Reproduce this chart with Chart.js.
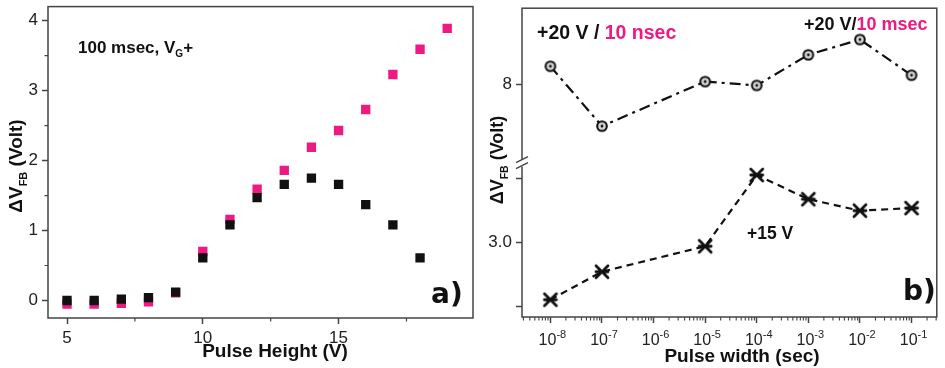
<!DOCTYPE html>
<html>
<head>
<meta charset="utf-8">
<script src="https://cdn.jsdelivr.net/npm/chart.js@4.4.1/dist/chart.umd.min.js"></script>
<style>
  html, body { margin: 0; padding: 0; background: #fff; }
  #wrap { position: relative; width: 945px; height: 368px; overflow: hidden; background: #fff; }
  canvas { position: absolute; top: 0; }
  #cA { left: 0; }
  #cB { left: 480px; }
</style>
</head>
<body>
<div id="wrap">
  <canvas id="cA" width="480" height="368"></canvas>
  <canvas id="cB" width="465" height="368"></canvas>
</div>
<script>
// ---- panel a): flat-band shift vs. pulse height (100 msec pulses) ----
const pulseHeights = [5, 6, 7, 8, 9, 10, 11, 12, 13, 14, 15, 16, 17, 18, 19];
const shiftBlack   = [0.00, 0.00, 0.02, 0.04, 0.12, 0.61, 1.08, 1.47, 1.66, 1.75, 1.66, 1.37, 1.08, 0.61];
const shiftPink    = [-0.05, -0.05, -0.04, -0.02, 0.11, 0.70, 1.16, 1.59, 1.86, 2.19, 2.43, 2.73, 3.23, 3.59, 3.89];
const aXTicks      = [5, 10, 15];
const aXMinor      = [7.5, 12.5, 17.5];
const aYTicks      = [0, 1, 2, 3, 4];
const aYMinor      = [0.5, 1.5, 2.5, 3.5];

// ---- panel b): flat-band shift vs. pulse width ----
const pulseWidths  = [1e-8, 1e-7, 1e-5, 1e-4, 1e-3, 1e-2, 1e-1];
const shift20V     = [8.14, 7.67, 8.02, 7.99, 8.23, 8.35, 8.07];
const shift15V     = [2.55, 2.77, 2.97, 3.53, 3.34, 3.25, 3.27];
const bXTickExps   = [-8, -7, -6, -5, -4, -3, -2, -1];
const bUpperTicks  = [8];
const bLowerTicks  = [2.5, 3.0, 3.5];
const bLowerLabels = [3.0];

const FONT = "'Liberation Sans', Arial, Helvetica, sans-serif";
const INK = '#111';
const PINK = '#ec1a82';
const AXIS = '#444';
const TICK_TXT = '#222';

function drawRuns(ctx, x, y, runs) {
  for (const r of runs) {
    ctx.font = (r.bold ? 'bold ' : '') + r.size + 'px ' + FONT;
    ctx.fillStyle = r.color || INK;
    ctx.fillText(r.t, x, y + (r.dy || 0));
    x += ctx.measureText(r.t).width;
  }
  return x;
}
function runsWidth(ctx, runs) {
  let w = 0;
  for (const r of runs) {
    ctx.font = (r.bold ? 'bold ' : '') + r.size + 'px ' + FONT;
    w += ctx.measureText(r.t).width;
  }
  return w;
}
// rotated axis title, read bottom-to-top; (bx, cy) = baseline x and centre y
function drawVerticalTitle(ctx, bx, cy, runs) {
  ctx.save();
  ctx.translate(bx, cy);
  ctx.rotate(-Math.PI / 2);
  ctx.textBaseline = 'alphabetic';
  ctx.textAlign = 'left';
  const w = runsWidth(ctx, runs);
  drawRuns(ctx, -w / 2, 0, runs);
  ctx.restore();
}
function minorX(ctx, scale, values, len) {
  ctx.beginPath();
  for (const v of values) {
    const p = scale.getPixelForValue(v);
    ctx.moveTo(p, scale.top);
    ctx.lineTo(p, scale.top + len);
  }
  ctx.stroke();
}
function minorY(ctx, scale, values, len) {
  ctx.beginPath();
  for (const v of values) {
    const p = scale.getPixelForValue(v);
    ctx.moveTo(scale.right, p);
    ctx.lineTo(scale.right - len, p);
  }
  ctx.stroke();
}
function frame(ctx, area) {
  ctx.strokeStyle = AXIS;
  ctx.lineWidth = 1.5;
  ctx.strokeRect(area.left, area.top, area.right - area.left, area.bottom - area.top);
}
// fixed axis thickness, no extra room reserved for edge labels
function fixWidth(w) {
  return s => { s.width = w; s.paddingTop = 0; s.paddingBottom = 0; };
}
function fixHeight(h) {
  return s => { s.height = h; s.paddingLeft = 0; s.paddingRight = 0; };
}

const tickFont = { family: FONT, size: 17 };
const gridOpts = { drawOnChartArea: false, tickLength: 6, tickWidth: 1.5, tickColor: AXIS };

// ---------------- panel a ----------------
const panelA = {
  id: 'panelA',
  afterDraw(chart) {
    const ctx = chart.ctx;
    const area = chart.chartArea;
    ctx.save();
    frame(ctx, area);
    ctx.lineWidth = 1.2;
    minorX(ctx, chart.scales.x, aXMinor, 3.5);
    minorY(ctx, chart.scales.y, aYMinor, 3.5);

    ctx.textBaseline = 'alphabetic';
    ctx.textAlign = 'left';
    drawRuns(ctx, 78, 53, [
      { t: '100 msec, V', size: 17, bold: true },
      { t: 'G', size: 10, bold: true, dy: 4 },
      { t: '+', size: 17, bold: true }
    ]);
    ctx.font = "bold 28px 'DejaVu Sans', Verdana, sans-serif";
    ctx.fillStyle = INK;
    ctx.fillText('a)', 431, 303);

    ctx.font = 'bold 19px ' + FONT;
    ctx.textAlign = 'center';
    ctx.fillText('Pulse Height (V)', 275, 357);
    drawVerticalTitle(ctx, 22, 166, [
      { t: '\u0394V', size: 19, bold: true },
      { t: 'FB', size: 11, bold: true, dy: 5 },
      { t: ' (Volt)', size: 19, bold: true }
    ]);
    ctx.restore();
  }
};

new Chart(document.getElementById('cA'), {
  type: 'scatter',
  data: {
    datasets: [
      {
        label: 'black',
        data: shiftBlack.map((v, i) => ({ x: pulseHeights[i], y: v })),
        pointStyle: 'rect', pointRadius: 6.6, pointBorderWidth: 0,
        pointBackgroundColor: INK, backgroundColor: INK, borderColor: INK
      },
      {
        label: 'pink',
        data: shiftPink.map((v, i) => ({ x: pulseHeights[i], y: v })),
        pointStyle: 'rect', pointRadius: 6.6, pointBorderWidth: 0,
        pointBackgroundColor: PINK, backgroundColor: PINK, borderColor: PINK
      }
    ]
  },
  options: {
    responsive: false, animation: false, devicePixelRatio: 1,
    layout: { padding: { left: 0, right: 7, top: 5, bottom: 0 } },
    plugins: { legend: { display: false }, tooltip: { enabled: false } },
    scales: {
      x: {
        type: 'linear', min: 4.3, max: 19.95,
        afterBuildTicks: s => { s.ticks = aXTicks.map(v => ({ value: v })); },
        afterFit: fixHeight(50),
        grid: gridOpts, border: { display: false },
        ticks: { font: tickFont, color: TICK_TXT, padding: 4, maxRotation: 0, autoSkip: false }
      },
      y: {
        type: 'linear', min: -0.25, max: 4.2,
        afterBuildTicks: s => { s.ticks = aYTicks.map(v => ({ value: v })); },
        afterFit: fixWidth(48),
        grid: gridOpts, border: { display: false },
        ticks: { font: tickFont, color: TICK_TXT, padding: 4, autoSkip: false }
      }
    }
  },
  plugins: [panelA]
});

// ---------------- panel b ----------------
function makeCircleDot() {
  const c = document.createElement('canvas');
  c.width = 14; c.height = 14;
  const g = c.getContext('2d');
  g.beginPath(); g.arc(7, 7, 4.8, 0, Math.PI * 2);
  g.fillStyle = '#d8d8d8'; g.fill();
  g.lineWidth = 2.1; g.strokeStyle = INK; g.stroke();
  g.beginPath(); g.arc(7, 7, 1.4, 0, Math.PI * 2);
  g.fillStyle = INK; g.fill();
  return c;
}
function makeStar() {
  const c = document.createElement('canvas');
  c.width = 18; c.height = 18;
  const g = c.getContext('2d');
  g.strokeStyle = INK; g.lineWidth = 2.8; g.lineCap = 'round';
  g.beginPath();
  g.moveTo(3, 3); g.lineTo(15, 15);
  g.moveTo(15, 3); g.lineTo(3, 15);
  g.moveTo(3, 9); g.lineTo(15, 9);
  g.stroke();
  return c;
}

const panelB = {
  id: 'panelB',
  afterDraw(chart) {
    const ctx = chart.ctx;
    const area = chart.chartArea;
    const xs = chart.scales.x;
    const yUp = chart.scales.yUp;
    ctx.save();
    frame(ctx, area);

    // minor decade ticks
    const minors = [];
    for (let n = -9; n <= -1; n++) {
      for (let k = 2; k <= 9; k++) {
        const v = k * Math.pow(10, n);
        if (v > xs.min && v < xs.max) minors.push(v);
      }
    }
    ctx.strokeStyle = AXIS;
    ctx.lineWidth = 1.1;
    minorX(ctx, xs, minors, 3.5);

    // decade labels 10^n
    ctx.textBaseline = 'alphabetic';
    ctx.textAlign = 'left';
    for (const e of bXTickExps) {
      const px = xs.getPixelForValue(Math.pow(10, e));
      const runs = [
        { t: '10', size: 16, color: TICK_TXT },
        { t: '-' + Math.abs(e), size: 11, color: TICK_TXT, dy: -7 }
      ];
      const w = runsWidth(ctx, runs);
      drawRuns(ctx, px + 2 - w / 2, 345, runs);
    }

    // axis break between the two ranges
    const bx = area.left, by = yUp.bottom;
    ctx.fillStyle = '#fff';
    ctx.fillRect(bx - 2, by - 4, 4, 7);
    ctx.strokeStyle = AXIS;
    ctx.lineWidth = 1.4;
    ctx.beginPath();
    ctx.moveTo(bx - 6, by - 1); ctx.lineTo(bx + 6, by - 7);
    ctx.moveTo(bx - 6, by + 5); ctx.lineTo(bx + 6, by - 1);
    ctx.stroke();

    // annotations
    drawRuns(ctx, 57, 39, [
      { t: '+20 V / ', size: 19.5, bold: true },
      { t: '10 nsec', size: 19.5, bold: true, color: PINK }
    ]);
    drawRuns(ctx, 324, 30, [
      { t: '+20 V/', size: 18, bold: true },
      { t: '10 msec', size: 18, bold: true, color: PINK }
    ]);
    drawRuns(ctx, 267, 238.5, [{ t: '+15 V', size: 17.5, bold: true }]);

    ctx.font = "bold 28px 'DejaVu Sans', Verdana, sans-serif";
    ctx.fillStyle = INK;
    ctx.fillText('b)', 423, 300);

    ctx.font = 'bold 19px ' + FONT;
    ctx.textAlign = 'center';
    ctx.fillText('Pulse width (sec)', 262, 362);
    ctx.textAlign = 'left';
    drawVerticalTitle(ctx, 22.5, 160, [
      { t: '\u0394V', size: 18, bold: true },
      { t: 'FB', size: 10.5, bold: true, dy: 5 },
      { t: ' (Volt)', size: 18, bold: true }
    ]);
    ctx.restore();
  }
};

new Chart(document.getElementById('cB'), {
  type: 'scatter',
  data: {
    datasets: [
      {
        label: '+20 V',
        data: shift20V.map((v, i) => ({ x: pulseWidths[i], y: v })),
        yAxisID: 'yUp', showLine: true,
        borderColor: INK, borderWidth: 2.2, borderDash: [11, 5, 3, 5],
        pointStyle: makeCircleDot(), pointRadius: 5
      },
      {
        label: '+15 V',
        data: shift15V.map((v, i) => ({ x: pulseWidths[i], y: v })),
        yAxisID: 'yLo', showLine: true,
        borderColor: INK, borderWidth: 2.2, borderDash: [7, 5],
        pointStyle: makeStar(), pointRadius: 6
      }
    ]
  },
  options: {
    responsive: false, animation: false, devicePixelRatio: 1,
    layout: { padding: { left: 0, right: 1, top: 5, bottom: 0 } },
    plugins: { legend: { display: false }, tooltip: { enabled: false } },
    scales: {
      x: {
        type: 'logarithmic', min: Math.pow(10, -8.55), max: Math.pow(10, -0.51),
        afterBuildTicks: s => { s.ticks = bXTickExps.map(e => ({ value: Math.pow(10, e) })); },
        afterFit: fixHeight(51),
        grid: gridOpts, border: { display: false },
        ticks: { callback: () => '', autoSkip: false, maxRotation: 0, font: tickFont }
      },
      yUp: {
        type: 'linear', position: 'left', stack: 'b', stackWeight: 157, weight: 2,
        min: 7.376, max: 8.596,
        afterBuildTicks: s => { s.ticks = bUpperTicks.map(v => ({ value: v })); },
        afterFit: fixWidth(42),
        grid: gridOpts, border: { display: false },
        ticks: { font: tickFont, color: TICK_TXT, padding: 4, autoSkip: false, callback: v => String(v) }
      },
      yLo: {
        type: 'linear', position: 'left', stack: 'b', stackWeight: 155, weight: 1,
        min: 2.414, max: 3.62,
        afterBuildTicks: s => { s.ticks = bLowerTicks.map(v => ({ value: v })); },
        afterFit: fixWidth(42),
        grid: gridOpts, border: { display: false },
        ticks: { font: tickFont, color: TICK_TXT, padding: 4, autoSkip: false,
                 callback: v => bLowerLabels.includes(v) ? v.toFixed(1) : '' }
      }
    }
  },
  plugins: [panelB]
});
</script>
</body>
</html>
